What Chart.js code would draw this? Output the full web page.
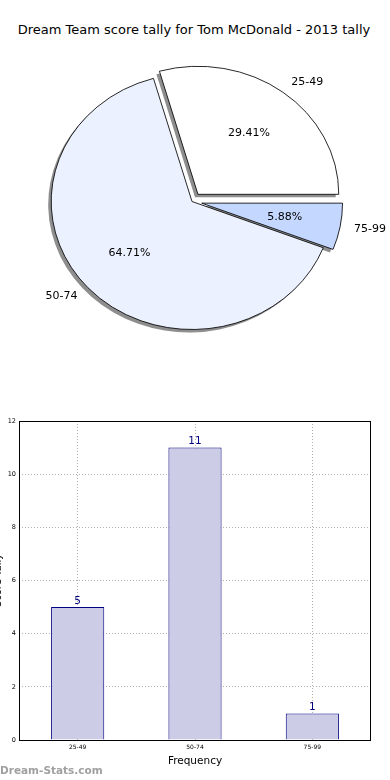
<!DOCTYPE html>
<html lang="en">
<head>
    <meta charset="UTF-8">
    <title>Dream Team score tally</title>
    <script src="https://cdn.jsdelivr.net/npm/chart.js@4.4.0/dist/chart.umd.min.js"></script>
    <style>
        body {
            margin: 0;
            background: #ffffff;
            width: 390px;
            height: 780px;
            position: relative;
            overflow: hidden;
            font-family: "DejaVu Sans", sans-serif;
        }
        #title {
            position: absolute; left: -2px; top: 22px; width: 392px;
            text-align: center; font-size: 13px; color: #000;
        }
        #pieWrap { position: absolute; left: 0; top: 0; width: 390px; height: 360px; }
        #barWrap { position: absolute; left: 0; top: 380px; width: 390px; height: 400px; }
        #watermark {
            position: absolute; left: 0; top: 764px;
            font-size: 10.5px; font-weight: bold; color: #a0a0a0;
        }
    </style>
</head>
<body>
    <div id="title">Dream Team score tally for Tom McDonald - 2013 tally</div>
    <div id="pieWrap"><canvas id="pieChart"></canvas></div>
    <div id="barWrap"><canvas id="barChart"></canvas></div>
    <div id="watermark">Dream-Stats.com</div>

    <script>
        // data
        const scoreRanges = ['25-49', '50-74', '75-99'];
        const tallies = [5, 11, 1];
        const yTicks = [0, 2, 4, 6, 8, 10, 12];

        // styling
        const pieColours = ['#ffffff', '#ebf1ff', '#c4d8ff'];
        const explodePx = [9, 0, 9];
        const stretchX = 1.1; // the pie is a bit wider than tall in the original
        const shadowShift = 3;

        const total = tallies.reduce((a, b) => a + b, 0);

        // chart.js goes clockwise, so reverse to get the anticlockwise layout
        const pieLabels = scoreRanges.slice().reverse();
        const pieValues = tallies.slice().reverse();
        const pieFill = pieColours.slice().reverse();
        const pieExplode = explodePx.slice().reverse();

        const midAngle = arc => (arc.startAngle + arc.endAngle) / 2;

        const piePlugin = {
            id: 'explodedPie',
            beforeDatasetsDraw(chart) {
                const ctx = chart.ctx;
                const arcs = chart.getDatasetMeta(0).data;
                // push exploded slices out from the centre
                arcs.forEach((arc, i) => {
                    if (arc._exploded) return;
                    const origDraw = arc.draw;
                    arc.draw = function (c) {
                        const m = midAngle(this);
                        c.save();
                        c.translate(Math.cos(m) * pieExplode[i], Math.sin(m) * pieExplode[i]);
                        origDraw.call(this, c);
                        c.restore();
                    };
                    arc._exploded = true;
                });
                ctx.save();
                const cx = arcs[0].x;
                ctx.translate(cx, 0);
                ctx.scale(stretchX, 1);
                ctx.translate(-cx, 0);
                // shadows under the slices
                ctx.fillStyle = '#8e8e8e';
                arcs.forEach((arc, i) => {
                    const m = midAngle(arc);
                    const x = arc.x + Math.cos(m) * pieExplode[i] - shadowShift / stretchX;
                    const y = arc.y + Math.sin(m) * pieExplode[i] + shadowShift;
                    ctx.beginPath();
                    ctx.moveTo(x, y);
                    ctx.arc(x, y, arc.outerRadius, arc.startAngle, arc.endAngle);
                    ctx.closePath();
                    ctx.fill();
                });
            },
            afterDatasetsDraw(chart) {
                const ctx = chart.ctx;
                ctx.restore();
                ctx.save();
                ctx.fillStyle = '#000';
                ctx.font = '11px "DejaVu Sans"';
                ctx.textBaseline = 'middle';
                chart.getDatasetMeta(0).data.forEach((arc, i) => {
                    const m = midAngle(arc);
                    const r = arc.outerRadius;
                    const off = pieExplode[i];
                    const c = Math.cos(m), s = Math.sin(m);
                    ctx.textAlign = c > 0 ? 'left' : 'right';
                    ctx.fillText(pieLabels[i], arc.x + stretchX * (r * 1.1 + off) * c, arc.y + (r * 1.1 + off) * s);
                    ctx.textAlign = 'center';
                    ctx.fillText((pieValues[i] / total * 100).toFixed(2) + '%',
                        arc.x + stretchX * (r * 0.6 + off) * c, arc.y + (r * 0.6 + off) * s);
                });
                ctx.restore();
            }
        };

        new Chart(document.getElementById('pieChart'), {
            type: 'pie',
            data: {
                labels: pieLabels,
                datasets: [{
                    data: pieValues,
                    backgroundColor: pieFill,
                    borderColor: '#000000',
                    borderWidth: 0.8
                }]
            },
            options: {
                responsive: true,
                maintainAspectRatio: false,
                animation: false,
                rotation: 90,
                radius: 128,
                layout: { padding: { left: 0, right: 6, top: 43, bottom: 0 } },
                plugins: {
                    legend: { display: false },
                    tooltip: { enabled: false }
                }
            },
            plugins: [piePlugin]
        });

        // frame, value labels and the clipped y title
        const barExtras = {
            id: 'barExtras',
            afterDraw(chart) {
                const ctx = chart.ctx;
                const a = chart.chartArea;
                ctx.save();
                ctx.strokeStyle = '#000';
                ctx.lineWidth = 1;
                ctx.strokeRect(a.left + 0.5, a.top + 0.5, a.right - a.left - 1, a.bottom - a.top);
                ctx.fillStyle = '#000080';
                ctx.font = '10.5px "DejaVu Sans"';
                ctx.textAlign = 'center';
                ctx.textBaseline = 'bottom';
                chart.getDatasetMeta(0).data.forEach((bar, i) => {
                    ctx.fillText(String(tallies[i]), bar.x, bar.y - 1);
                });
                ctx.fillStyle = '#000';
                ctx.font = '10px "DejaVu Sans"';
                ctx.translate(-2, (a.top + a.bottom) / 2);
                ctx.rotate(-Math.PI / 2);
                ctx.textAlign = 'center';
                ctx.textBaseline = 'middle';
                ctx.fillText('Score Tally', 0, 0);
                ctx.restore();
            }
        };

        new Chart(document.getElementById('barChart'), {
            type: 'bar',
            data: {
                labels: scoreRanges,
                datasets: [{
                    data: tallies,
                    backgroundColor: '#ccccе6'.replace('е', 'e'),
                    borderColor: '#000080',
                    borderWidth: 1,
                    borderSkipped: 'bottom',
                    barPercentage: 0.453,
                    categoryPercentage: 1
                }]
            },
            options: {
                responsive: true,
                maintainAspectRatio: false,
                animation: false,
                layout: { padding: { left: 0, right: 19, top: 41, bottom: 0 } },
                plugins: {
                    legend: { display: false },
                    tooltip: { enabled: false }
                },
                scales: {
                    x: {
                        grid: { color: '#b0b0b0', lineWidth: 1, offset: false, drawTicks: false },
                        border: { display: false, dash: [1, 2] },
                        ticks: {
                            color: '#000',
                            padding: 4,
                            font: { family: 'DejaVu Sans', size: 6 }
                        },
                        title: {
                            display: true,
                            text: 'Frequency',
                            color: '#000',
                            font: { family: 'DejaVu Sans', size: 10.5 },
                            padding: { top: 0, bottom: 12.5 }
                        },
                        afterFit(scale) { scale.height = 40; }
                    },
                    y: {
                        min: 0,
                        max: 12,
                        afterBuildTicks(scale) { scale.ticks = yTicks.map(v => ({ value: v })); },
                        grid: { color: '#b0b0b0', lineWidth: 1, drawTicks: false },
                        border: { display: false, dash: [1, 2] },
                        ticks: {
                            color: '#000',
                            padding: 3,
                            font: { family: 'DejaVu Sans', size: 6.5 }
                        },
                        afterFit(scale) { scale.width = 19; }
                    }
                }
            },
            plugins: [barExtras]
        });
    </script>
</body>
</html>
